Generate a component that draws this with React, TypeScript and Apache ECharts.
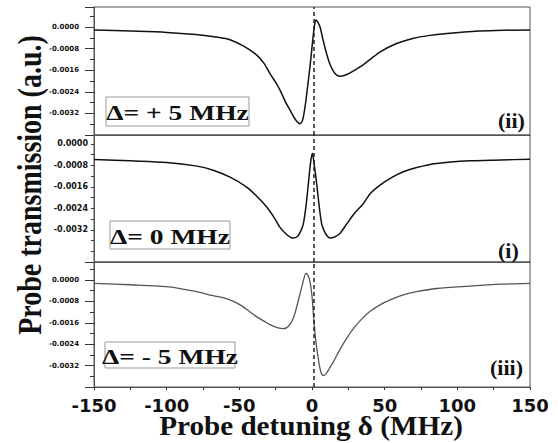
import React, { useEffect, useRef } from "react";
import * as echarts from "echarts";

// Probe detuning δ (MHz) vs probe transmission (a.u.)
const seriesPlus5: [number, number][] = [
  [-150, -0.00011], [-125, -0.00015], [-100, -0.0002], [-80, -0.00028], [-65, -0.00038],
  [-56, -0.00048], [-47, -0.00071], [-38, -0.00104], [-33, -0.00135], [-29, -0.00172],
  [-25, -0.00205], [-22, -0.00234], [-18, -0.0028], [-15, -0.00309], [-12, -0.00338],
  [-10, -0.00352], [-8.3, -0.00358], [-6.5, -0.00345], [-4.8, -0.00296], [-3, -0.0022],
  [-1.4, -0.00148], [0, -0.00075], [1, -0.00024], [2, 0.00015], [2.8, 0.00026],
  [4, 0.00018], [5.5, 0.00001], [7.5, -0.00045], [10, -0.00098], [12.5, -0.0014],
  [15, -0.00166], [17, -0.00178], [19.3, -0.00182], [24, -0.00176], [33, -0.00148],
  [40, -0.0012], [47, -0.00092], [57, -0.00064], [70, -0.00042], [80, -0.00032],
  [93, -0.00024], [115, -0.00015], [132, -0.00012], [150, -0.00011],
];

const seriesZero: [number, number][] = [
  [-150, -0.00058], [-125, -0.00063], [-100, -0.00069], [-80, -0.00082], [-68, -0.00098],
  [-56, -0.00125], [-45, -0.00161], [-38, -0.00195], [-31, -0.00236], [-26, -0.00275],
  [-22, -0.00311], [-18, -0.00335], [-15, -0.00347], [-12.8, -0.00351], [-10, -0.00345],
  [-8, -0.00328], [-6, -0.00299], [-4, -0.00225], [-2.5, -0.00148], [-1.2, -0.0008],
  [0.2, -0.00035], [1.6, -0.0008], [3.2, -0.00148], [4.8, -0.00225], [6.7, -0.00299],
  [8.7, -0.00328], [10.7, -0.00345], [12.8, -0.00351], [15.5, -0.00347], [19, -0.00335],
  [23.8, -0.00299], [29, -0.0026], [35.3, -0.00223], [40, -0.00186], [46.8, -0.00154],
  [55, -0.00125], [62.8, -0.00104], [72, -0.00088], [85.7, -0.00073], [108.7, -0.00063],
  [130, -0.0006], [150, -0.00057],
];

const seriesMinus5: [number, number][] = [
  [-150, -0.000125], [-125, -0.00018], [-100, -0.00025], [-90, -0.00033], [-80, -0.00043],
  [-68, -0.00059], [-60, -0.00068], [-54, -0.0008], [-48, -0.00098], [-43, -0.00118],
  [-38, -0.00138], [-33, -0.00154], [-28.9, -0.00167], [-24, -0.00178], [-19.7, -0.00182],
  [-16, -0.00172], [-12.8, -0.00142], [-10.5, -0.001], [-8.3, -0.00053], [-6.2, -0.00008],
  [-4.1, 0.00025], [-2.7, 0.00016], [-1.4, -0.00005], [0, -0.0006], [0.9, -0.00125],
  [2.5, -0.00222], [4.3, -0.00293], [6, -0.00342], [7.8, -0.00357], [10, -0.00348],
  [12, -0.0033], [14.7, -0.00306], [19, -0.00262], [23.8, -0.00218], [29, -0.00178],
  [35.3, -0.0014], [40, -0.00117], [46.8, -0.00093], [55, -0.00072], [62.8, -0.00056],
  [72, -0.00044], [85.7, -0.00032], [108.7, -0.00023], [130, -0.00016], [150, -0.000125],
];

const resonanceLine = 1;
const panelTags = ["(ii)", "(i)", "(iii)"];
const detuningTags = ["Δ= + 5 MHz", "Δ= 0 MHz", "Δ= - 5 MHz"];
const xTitle = "Probe detuning δ (MHz)";
const yTitle = "Probe transmission (a.u.)";

const yLabelStep = 0.0008;
const yLabelMinIndex = -4;

const yFormatter = (v: number) => {
  const k = Math.round(v / yLabelStep);
  if (Math.abs(v - k * yLabelStep) > 1e-7) return "";
  if (k > 0 || k < yLabelMinIndex) return "";
  const s = (k * yLabelStep).toFixed(4);
  return s === "-0.0000" ? "0.0000" : s;
};

const serif = "Liberation Serif, Times New Roman, serif";
const sans = "DejaVu Sans, sans-serif";

export default function App() {
  const ref = useRef<HTMLDivElement>(null);

  useEffect(() => {
    if (!ref.current) return;
    const chart = echarts.init(ref.current, undefined, { renderer: "svg" });

    const grids = [
      { left: 94, width: 436, top: 7, height: 128 },
      { left: 94, width: 436, top: 135, height: 127 },
      { left: 94, width: 436, top: 262, height: 125 },
    ].map((g) => ({ ...g, show: true, borderColor: "#555", borderWidth: 1, backgroundColor: "transparent" }));

    const xAxes = [0, 1, 2].map((i) => ({
      type: "value",
      gridIndex: i,
      min: -150,
      max: 150,
      interval: 50,
      axisLine: { show: true, onZero: false, lineStyle: { color: "#555", width: 1 } },
      axisTick: { show: i === 2, length: 3, lineStyle: { color: "#333" } },
      minorTick: { show: i === 2, splitNumber: 2, length: 3, lineStyle: { color: "#333" } },
      splitLine: { show: false },
      axisLabel: {
        show: i === 2,
        fontFamily: sans,
        fontWeight: "bold",
        fontSize: 18,
        color: "#111",
        margin: 9,
      },
    }));

    const yCfg = [
      { min: -0.004, max: 0.00074, interval: 0.0008, minor: true, len: 9, font: 7, margin: 15 },
      { min: -0.0044, max: 0.00033, interval: 0.0004, minor: false, len: 3, font: 8, margin: 6 },
      { min: -0.004, max: 0.00067, interval: 0.0008, minor: true, len: 9, font: 7, margin: 15 },
    ];
    const yAxes = yCfg.map((c, i) => ({
      type: "value",
      gridIndex: i,
      min: c.min,
      max: c.max,
      interval: c.interval,
      axisLine: { show: true, onZero: false, lineStyle: { color: "#555", width: 1 } },
      axisTick: { show: true, length: c.len, lineStyle: { color: "#333" } },
      minorTick: { show: c.minor, splitNumber: 2, length: 4, lineStyle: { color: "#333" } },
      splitLine: { show: false },
      axisLabel: {
        formatter: yFormatter,
        fontFamily: sans,
        fontWeight: "bold",
        fontSize: c.font,
        color: "#111",
        margin: c.margin,
      },
    }));

    const datasets = [seriesPlus5, seriesZero, seriesMinus5];
    const colors = ["#111", "#111", "#555"];
    const series = datasets.map((d, i) => ({
      type: "line",
      xAxisIndex: i,
      yAxisIndex: i,
      data: d,
      showSymbol: false,
      smooth: 0.3,
      lineStyle: { color: colors[i], width: i === 2 ? 1.3 : 1.5 },
      markLine: {
        silent: true,
        symbol: ["none", "none"],
        label: { show: false },
        lineStyle: { type: [4, 3], color: "#222", width: 1.5 },
        data: [{ xAxis: resonanceLine }],
      },
    }));

    const boxes = [
      { x: 106, y: 97, w: 143, h: 29 },
      { x: 110, y: 221, w: 120, h: 28 },
      { x: 105, y: 342, w: 130, h: 26 },
    ];
    const tagPos = [
      { x: 498, y: 121 },
      { x: 498, y: 251 },
      { x: 490, y: 368 },
    ];

    const txt = (text: string, x: number, y: number, font: string, align: string, extra: any = {}) => ({
      type: "text",
      x,
      y,
      ...extra,
      style: {
        text,
        font,
        fill: "#111",
        align,
        verticalAlign: "middle",
        textAlign: align,
        textVerticalAlign: "middle",
      },
    });

    const graphic: any[] = [];
    boxes.forEach((b, i) => {
      graphic.push({
        type: "rect",
        shape: { x: b.x, y: b.y, width: b.w, height: b.h },
        style: { fill: "#fff", stroke: "#999", lineWidth: 1 },
        z: 10,
      });
      graphic.push({
        ...txt(detuningTags[i], b.x + b.w / 2, b.y + b.h / 2 + 1, `bold 22px ${serif}`, "center", { scaleX: 1.25 }),
        z: 11,
      });
    });
    panelTags.forEach((t, i) => {
      graphic.push({ ...txt(t, tagPos[i].x, tagPos[i].y, `bold 20px ${serif}`, "left", { scaleX: 1.1 }), z: 11 });
    });
    graphic.push({ ...txt(xTitle, 311, 426, `bold 27px ${serif}`, "center", { scaleX: 1.08 }), z: 11 });
    graphic.push({
      ...txt(yTitle, 30, 185, `bold 28px ${serif}`, "center", { rotation: Math.PI / 2, scaleY: 1.22 }),
      z: 11,
    });

    chart.setOption({
      animation: false,
      backgroundColor: "#fff",
      grid: grids,
      xAxis: xAxes,
      yAxis: yAxes,
      series,
      graphic,
    } as any);

    return () => chart.dispose();
  }, []);

  return (
    <div
      ref={ref}
      style={{ position: "fixed", left: 0, top: 0, width: 558, height: 443 }}
    />
  );
}
